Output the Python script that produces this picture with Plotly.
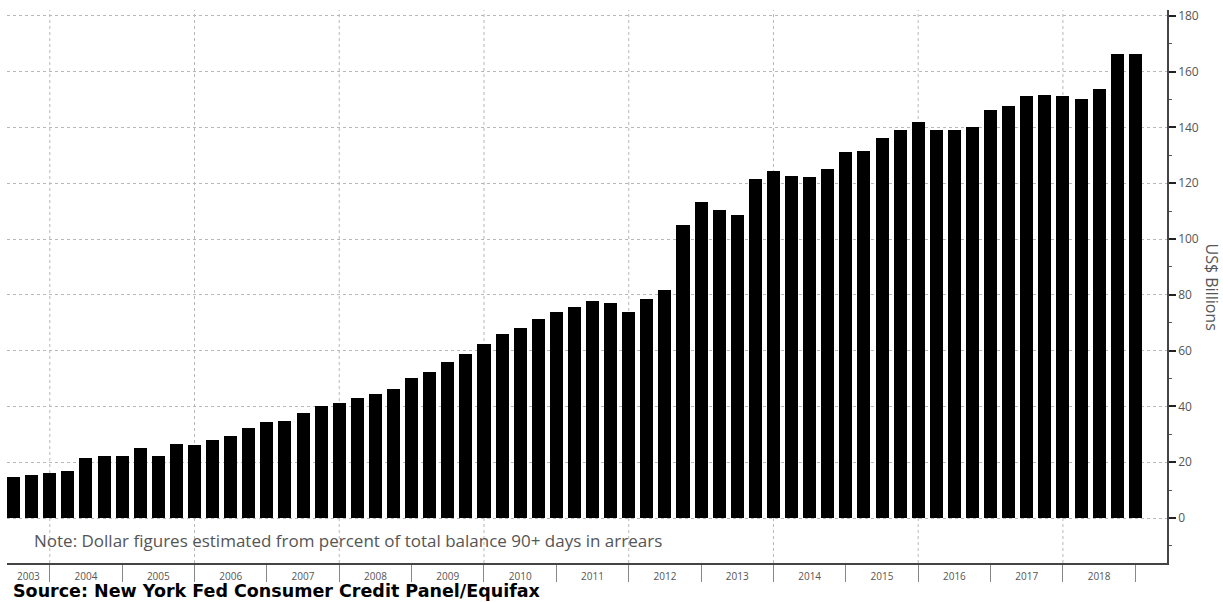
import plotly.graph_objects as go

# ---- data (quarter-end observations) ----
QUARTERS = [
    "2003 Q2", "2003 Q3", "2003 Q4",
    "2004 Q1", "2004 Q2", "2004 Q3", "2004 Q4",
    "2005 Q1", "2005 Q2", "2005 Q3", "2005 Q4",
    "2006 Q1", "2006 Q2", "2006 Q3", "2006 Q4",
    "2007 Q1", "2007 Q2", "2007 Q3", "2007 Q4",
    "2008 Q1", "2008 Q2", "2008 Q3", "2008 Q4",
    "2009 Q1", "2009 Q2", "2009 Q3", "2009 Q4",
    "2010 Q1", "2010 Q2", "2010 Q3", "2010 Q4",
    "2011 Q1", "2011 Q2", "2011 Q3", "2011 Q4",
    "2012 Q1", "2012 Q2", "2012 Q3", "2012 Q4",
    "2013 Q1", "2013 Q2", "2013 Q3", "2013 Q4",
    "2014 Q1", "2014 Q2", "2014 Q3", "2014 Q4",
    "2015 Q1", "2015 Q2", "2015 Q3", "2015 Q4",
    "2016 Q1", "2016 Q2", "2016 Q3", "2016 Q4",
    "2017 Q1", "2017 Q2", "2017 Q3", "2017 Q4",
    "2018 Q1", "2018 Q2", "2018 Q3", "2018 Q4",
]
VALUES = [
    14.8, 15.6, 16.2,
    16.8, 21.7, 22.1, 22.1,
    25.2, 22.1, 26.4, 26.1,
    27.9, 29.4, 32.2, 34.4,
    34.7, 37.6, 40.0, 41.3,
    43.0, 44.5, 46.3, 50.2,
    52.5, 56.1, 58.9, 62.5,
    65.8, 68.2, 71.5, 74.0,
    75.5, 77.7, 77.1, 74.0,
    78.7, 81.7, 105.2, 113.2,
    110.4, 108.6, 121.5, 124.4,
    122.7, 122.4, 125.1, 131.1,
    131.5, 136.3, 139.2, 142.0,
    139.2, 139.2, 140.0, 146.4,
    147.7, 151.1, 151.7, 151.1,
    150.1, 153.8, 166.5, 166.5,
]
YEAR_LABELS = [str(y) for y in range(2003, 2019)]
YEAR_BOUNDARIES = list(range(2004, 2020))
GRID_YEARS = list(range(2004, 2019, 2))
Y_TICKS = list(range(0, 181, 20))

NOTE = "Note: Dollar figures estimated from percent of total balance 90+ days in arrears"
SOURCE = "Source: New York Fed Consumer Credit Panel/Equifax"
Y_TITLE = "US$ Billions"

# quarter-end position as fractional year
def q_end(label):
    y, q = label.split(" Q")
    return int(y) + int(q) / 4.0

x_vals = [q_end(q) for q in QUARTERS]

X_MIN, X_MAX = 2003.409, 2019.438
Y_MIN, Y_MAX = -16.1, 182.1

label_pos = [(max(int(y), X_MIN) + int(y) + 1) / 2.0 for y in YEAR_LABELS]

W, H = 1223, 602
ML, MR, MT, MB = 7, 56, 8, 39
PW, PH = W - ML - MR, H - MT - MB

fig = go.Figure()
fig.add_trace(go.Bar(
    x=x_vals, y=VALUES, width=0.18,
    marker=dict(color="#000000", line=dict(width=0)),
    hoverinfo="skip", showlegend=False,
))

for gy in GRID_YEARS:
    fig.add_shape(type="line", xref="x", yref="paper", x0=gy, x1=gy, y0=0, y1=1,
                  line=dict(color="#b8b8b8", width=1, dash="dot"), layer="below")

fig.update_layout(
    width=W, height=H,
    margin=dict(l=ML, r=MR, t=MT, b=MB, pad=0),
    paper_bgcolor="white", plot_bgcolor="white",
    font=dict(family="Open Sans", color="#555555"),
    bargap=0,
    xaxis=dict(
        range=[X_MIN, X_MAX], tickmode="array", tickvals=label_pos, ticktext=YEAR_LABELS,
        ticks="", showgrid=False, zeroline=False,
        showline=True, linecolor="#444444", linewidth=1.5,
        tickfont=dict(size=10, color="#555555"),
        ticklabelstandoff=3,
        minor=dict(tickmode="array", tickvals=YEAR_BOUNDARIES, ticks="outside",
                   ticklen=17, tickwidth=1, tickcolor="#888888", showgrid=False),
    ),
    yaxis=dict(
        range=[Y_MIN, Y_MAX], side="right", tickmode="array", tickvals=Y_TICKS,
        ticks="outside", ticklen=7, tickwidth=2, tickcolor="#222222",
        showline=True, linecolor="#444444", linewidth=1.5,
        showgrid=True, gridcolor="#b8b8b8", griddash="dot", gridwidth=1,
        zeroline=False, ticklabeloverflow="allow",
        tickfont=dict(size=12, color="#555555"),
        minor=dict(dtick=10, tick0=0, ticks="outside", ticklen=3, tickwidth=1,
                   tickcolor="#555555", showgrid=False),
    ),
    annotations=[
        dict(text=NOTE, xref="paper", yref="y", x=(32 - ML) / PW, y=-7.9,
             xanchor="left", yanchor="middle", showarrow=False,
             font=dict(family="Open Sans", size=17, color="#555555")),
        dict(text="<b>" + SOURCE + "</b>", xref="paper", yref="paper",
             x=(11 - ML) / PW, y=(MT + PH - 591) / PH, xanchor="left", yanchor="middle",
             showarrow=False, font=dict(family="DejaVu Sans", size=17.5, color="#000000")),
        dict(text=Y_TITLE, xref="paper", yref="paper", x=(1212 - ML) / PW, y=0.5,
             xanchor="center", yanchor="middle", textangle=90, showarrow=False,
             font=dict(family="Open Sans", size=16, color="#555555")),
    ],
)

# remove the default page margin so the 1223x602 figure fills the window exactly
fig.write_html("out.html", config={"displayModeBar": False},
               post_script="document.body.style.margin='0';")
